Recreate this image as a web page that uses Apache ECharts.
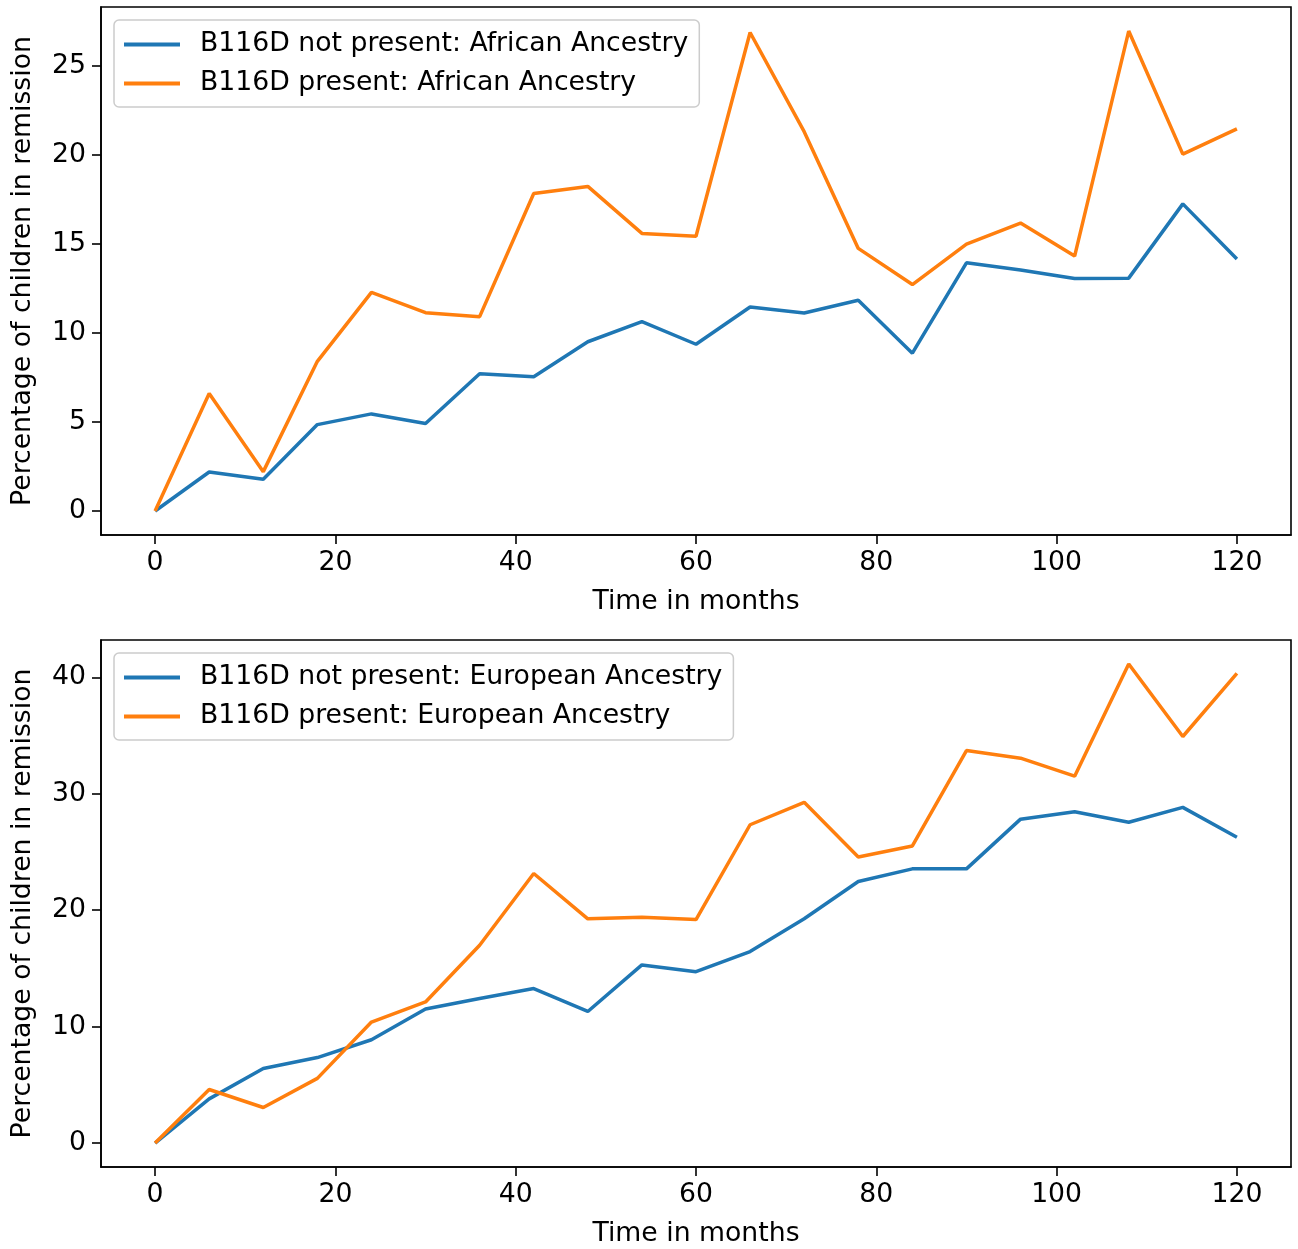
<!DOCTYPE html>
<html>
<head>
<meta charset="utf-8">
<script src="https://cdn.jsdelivr.net/npm/echarts@6/dist/echarts.min.js"></script>
<style>
html,body{margin:0;padding:0;background:#fff;}
#c{width:1298px;height:1249px;}
</style>
</head>
<body>
<div id="c"></div>
<script>
const months = [0,6,12,18,24,30,36,42,48,54,60,66,72,78,84,90,96,102,108,114,120];
const africanNotPresent = [0,2.19,1.78,4.85,5.45,4.91,7.70,7.54,9.50,10.63,9.36,11.45,11.11,11.83,8.86,13.93,13.53,13.05,13.07,17.24,14.15];
const africanPresent = [0,6.60,2.21,8.40,12.27,11.13,10.91,17.82,18.22,15.58,15.42,26.86,21.29,14.74,12.71,14.98,16.16,14.31,26.94,20.03,21.45];
const europeanNotPresent = [0,3.79,6.40,7.34,8.87,11.51,12.42,13.27,11.30,15.30,14.72,16.45,19.26,22.47,23.55,23.55,27.82,28.46,27.55,28.83,26.26];
const europeanPresent = [0,4.60,3.05,5.55,10.39,12.12,16.99,23.15,19.26,19.39,19.19,27.34,29.27,24.57,25.52,33.71,33.06,31.51,41.15,34.92,40.34];
const xTicks = [0,20,40,60,80,100,120];
const yTicksTop = [0,5,10,15,20,25];
const yTicksBottom = [0,10,20,30,40];

const FONT = 'DejaVu Sans';
const FS = 26.7;
const BLUE = '#1f77b4', ORANGE = '#ff7f0e';

function pairs(ys){ return months.map((m,i)=>[m, ys[i]]); }

function xAxis(gi){
  return {
    type:'value', gridIndex:gi, min:-6, max:126,
    name:'Time in months', nameLocation:'middle', nameGap:54,
    nameTextStyle:{fontFamily:FONT,fontSize:FS,color:'#000'},
    axisLine:{show:true,onZero:false,lineStyle:{color:'#000',width:1.6}},
    axisTick:{show:true,length:9,lineStyle:{color:'#000',width:1.6},customValues:xTicks},
    axisLabel:{fontFamily:FONT,fontSize:FS,color:'#000',margin:15,customValues:xTicks},
    splitLine:{show:false}
  };
}
function yAxis(gi,min,max,ticks){
  return {
    type:'value', gridIndex:gi, min:min, max:max,
    name:'Percentage of children in remission', nameLocation:'middle', nameGap:64,
    nameTextStyle:{fontFamily:FONT,fontSize:FS,color:'#000'},
    axisLine:{show:true,onZero:false,lineStyle:{color:'#000',width:1.6}},
    axisTick:{show:true,length:9,lineStyle:{color:'#000',width:1.6},customValues:ticks},
    axisLabel:{fontFamily:FONT,fontSize:FS,color:'#000',margin:15,customValues:ticks},
    splitLine:{show:false}
  };
}
function legend(top,names){
  return {
    orient:'vertical', left:114, top:top,
    data:names.map(n=>({name:n,icon:'rect'})),
    itemWidth:56, itemHeight:4, itemGap:12,
    padding:[11,11,10,10],
    backgroundColor:'rgba(255,255,255,0.8)',
    borderColor:'#cccccc', borderWidth:1.5, borderRadius:5,
    textStyle:{fontFamily:FONT,fontSize:FS,color:'#000',lineHeight:27,padding:[0,0,0,15]}
  };
}
function line(name,data,color,xi,yi){
  return {
    type:'line', name:name, data:pairs(data), xAxisIndex:xi, yAxisIndex:yi,
    showSymbol:false, symbol:'none', color:color,
    lineStyle:{color:color,width:3.5}, itemStyle:{color:color},
    clip:true
  };
}

const chart = echarts.init(document.getElementById('c'), null, {renderer:'canvas'});
chart.setOption({
  animation:false,
  backgroundColor:'#fff',
  grid:[
    {left:101, top:7, width:1190, height:528, show:true, borderColor:'#000', borderWidth:1.6, backgroundColor:'transparent'},
    {left:101, top:640, width:1190, height:527, show:true, borderColor:'#000', borderWidth:1.6, backgroundColor:'transparent'}
  ],
  xAxis:[xAxis(0), xAxis(1)],
  yAxis:[yAxis(0,-1.347,28.29,yTicksTop), yAxis(1,-2.06,43.21,yTicksBottom)],
  legend:[
    legend(20,['B116D not present: African Ancestry','B116D present: African Ancestry']),
    legend(653,['B116D not present: European Ancestry','B116D present: European Ancestry'])
  ],
  series:[
    line('B116D not present: African Ancestry',africanNotPresent,BLUE,0,0),
    line('B116D present: African Ancestry',africanPresent,ORANGE,0,0),
    line('B116D not present: European Ancestry',europeanNotPresent,BLUE,1,1),
    line('B116D present: European Ancestry',europeanPresent,ORANGE,1,1)
  ]
});
</script>
</body>
</html>
